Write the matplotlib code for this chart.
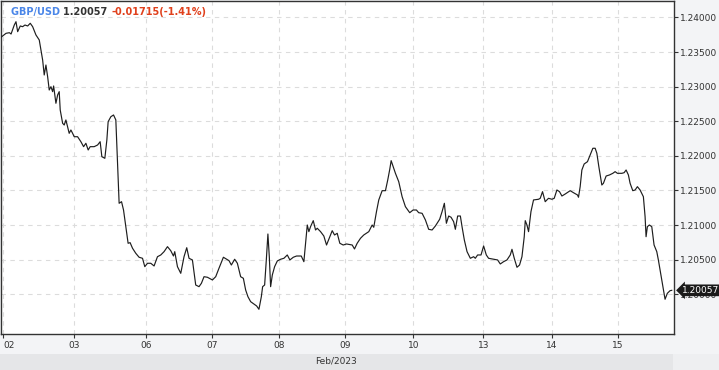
import numpy as np
import matplotlib
matplotlib.use('Agg')
import matplotlib.pyplot as plt
from matplotlib.patches import Rectangle

# GBP/USD hourly-ish bars, x = bar index, y = price
bars = [0.0, 1.8, 3.0, 3.6, 4.75, 5.36, 5.96, 6.89, 7.75, 8.57, 9.54, 10.46, 11.32, 12.5,
        13.68, 14.89, 15.46, 16.07, 16.68, 17.25, 17.86, 18.46, 18.82, 19.64, 20.25, 20.82,
        21.18, 22.04, 22.61, 23.21, 23.82, 24.39, 25.0, 25.61, 26.18, 27.39, 28.57, 29.54,
        30.36, 31.18, 31.89, 33.32, 34.54, 35.46, 36.07, 37.14, 37.86, 38.32, 39.29, 40.25,
        41.07, 41.68, 42.25, 43.11, 43.82, 44.64, 45.46, 46.18, 47.04, 48.21, 49.39, 50.61,
        51.43, 52.39, 53.57, 54.75, 55.96, 57.14, 58.32, 59.54, 60.71, 61.68, 62.14, 63.11,
        64.29, 65.46, 66.43, 67.25, 68.46, 69.64, 70.82, 71.68, 72.61, 73.82, 75.61, 76.79,
        77.96, 79.54, 80.71, 81.54, 82.39, 83.57, 84.54, 85.71, 86.68, 87.5, 88.32, 89.29,
        90.46, 91.43, 92.25, 93.11, 93.57, 94.29, 94.89, 95.46, 95.96, 96.43, 97.04, 97.86,
        98.82, 100.0, 101.18, 102.39, 103.32, 104.54, 105.71, 107.39, 108.32, 108.93, 109.54,
        110.11, 110.71, 111.68, 112.5, 113.11, 114.29, 115.46, 116.43, 117.61, 118.46, 119.29,
        120.25, 121.18, 122.39, 123.57, 125.61, 126.43, 127.39, 128.57, 129.75, 131.54, 132.75,
        133.32, 134.29, 135.11, 136.32, 137.5, 138.32, 139.04, 139.54, 140.25, 141.07, 142.25,
        143.46, 144.64, 146.18, 147.39, 148.57, 149.39, 150.61, 151.79, 152.96, 154.18, 155.36,
        156.89, 157.75, 158.57, 159.29, 160.11, 160.96, 161.89, 162.5, 163.32, 164.29, 164.89,
        165.71, 166.68, 167.86, 169.04, 169.64, 170.46, 171.68, 172.61, 173.57, 174.39, 176.18,
        177.61, 178.57, 179.75, 180.96, 182.14, 182.75, 183.57, 184.54, 185.46, 186.32, 187.14,
        187.5, 188.11, 188.68, 189.54, 190.46, 192.25, 192.86, 193.68, 194.64, 195.82, 197.04,
        197.86, 198.82, 199.75, 200.61, 201.79, 203.57, 204.75, 206.18, 206.54, 207.14, 207.75,
        208.57, 209.75, 210.71, 211.68, 212.5, 213.11, 213.82, 214.89, 215.46, 216.43, 217.61,
        218.82, 219.64, 220.46, 222.04, 222.86, 223.57, 224.39, 225.0, 225.96, 226.79, 227.61,
        228.57, 229.75, 230.36, 230.71, 231.18, 231.89, 232.75, 233.57, 234.54, 235.11, 236.32,
        237.5, 238.32, 239.29, 239.89]

prices = [1.23714, 1.23771, 1.23780, 1.23761, 1.23891, 1.23939, 1.23795, 1.23877, 1.23867,
          1.23891, 1.23877, 1.23916, 1.23867, 1.23747, 1.23675, 1.23386, 1.23169, 1.23313,
          1.23144, 1.22952, 1.23000, 1.22928, 1.23010, 1.22760, 1.22880, 1.22928, 1.22663,
          1.22471, 1.22446, 1.22519, 1.22422, 1.22326, 1.22374, 1.22326, 1.22277, 1.22277,
          1.22205, 1.22133, 1.22182, 1.22085, 1.22133, 1.22133, 1.22157, 1.22205, 1.21988,
          1.21965, 1.22230, 1.22494, 1.22566, 1.22591, 1.22519, 1.21893, 1.21315, 1.21338,
          1.21218, 1.20977, 1.20737, 1.20746, 1.20665, 1.20592, 1.20535, 1.20520, 1.20399,
          1.20448, 1.20448, 1.20409, 1.20543, 1.20568, 1.20616, 1.20688, 1.20630, 1.20553,
          1.20616, 1.20399, 1.20303, 1.20543, 1.20673, 1.20520, 1.20496, 1.20134, 1.20110,
          1.20159, 1.20254, 1.20246, 1.20207, 1.20254, 1.20376, 1.20535, 1.20506, 1.20486,
          1.20423, 1.20506, 1.20448, 1.20254, 1.20231, 1.20062, 1.19965, 1.19893, 1.19860,
          1.19831, 1.19783, 1.19965, 1.20110, 1.20134, 1.20496, 1.20871, 1.20543, 1.20110,
          1.20279, 1.20399, 1.20481, 1.20506, 1.20520, 1.20568, 1.20496, 1.20535, 1.20553,
          1.20553, 1.20471, 1.20737, 1.21001, 1.20905, 1.20977, 1.21064, 1.20929, 1.20954,
          1.20905, 1.20842, 1.20712, 1.20832, 1.20919, 1.20857, 1.20881, 1.20737, 1.20712,
          1.20727, 1.20712, 1.20655, 1.20737, 1.20809, 1.20857, 1.20905, 1.21001, 1.20968,
          1.21194, 1.21363, 1.21497, 1.21497, 1.21652, 1.21806, 1.21931, 1.21844, 1.21748,
          1.21627, 1.21410, 1.21266, 1.21179, 1.21218, 1.21218, 1.21179, 1.21170, 1.21074,
          1.20939, 1.20929, 1.20987, 1.21084, 1.21194, 1.21315, 1.21026, 1.21131, 1.21113,
          1.21049, 1.20939, 1.21131, 1.21131, 1.20977, 1.20785, 1.20616, 1.20520, 1.20543,
          1.20520, 1.20568, 1.20568, 1.20698, 1.20568, 1.20520, 1.20506, 1.20496, 1.20438,
          1.20471, 1.20496, 1.20568, 1.20650, 1.20520, 1.20390, 1.20423, 1.20543, 1.20832,
          1.21064, 1.21001, 1.20905, 1.21194, 1.21363, 1.21373, 1.21387, 1.21483, 1.21338,
          1.21387, 1.21373, 1.21387, 1.21507, 1.21483, 1.21420, 1.21449, 1.21497, 1.21468,
          1.21435, 1.21402, 1.21555, 1.21796, 1.21883, 1.21916, 1.22013, 1.22110, 1.22110,
          1.22037, 1.21844, 1.21579, 1.21604, 1.21709, 1.21724, 1.21748, 1.21772, 1.21748,
          1.21748, 1.21757, 1.21796, 1.21724, 1.21604, 1.21497, 1.21507, 1.21555, 1.21507,
          1.21410, 1.21121, 1.20832, 1.20977, 1.21001, 1.20977, 1.20712, 1.20616, 1.20496,
          1.20207, 1.19928, 1.20014, 1.20052, 1.20057]

day_ticks = [0.7, 26.1, 51.8, 75.4, 99.3, 123.2, 147.5, 172.5, 197.1, 220.7]
day_labels = ['02', '03', '06', '07', '08', '09', '10', '13', '14', '15']
price_ticks = [1.200, 1.205, 1.210, 1.215, 1.220, 1.225, 1.230, 1.235, 1.240]
month_label = 'Feb/2023'
symbol = 'GBP/USD'
last_price = prices[-1]
change = -0.01715
change_pct = -1.41

W, H = 719, 370
fig = plt.figure(figsize=(W / 100, H / 100), dpi=100, facecolor='#f3f4f6')
ax = fig.add_axes([1 / W, (H - 334) / H, 673 / W, 333 / H])
ax.set_facecolor('white')

ax.plot(bars, prices, color='#1e1e1e', linewidth=0.85, zorder=3)

ax.set_xlim(0, 240.7)
ax.set_ylim(1.19426, 1.24238)

ax.set_xticks(day_ticks)
ax.set_xticklabels(day_labels)
ax.set_yticks(price_ticks)
ax.set_yticklabels(['%.5f' % p for p in price_ticks])
ax.yaxis.tick_right()
ax.tick_params(axis='both', direction='out', length=3, width=0.8, color='#333333',
               labelsize=6.5, labelcolor='#333333', pad=1.5)
ax.tick_params(axis='x', pad=2)
# first day label sits against the left edge
ax.get_xticklabels()[0].set_horizontalalignment('left')

ax.grid(True, color='#dcdcdc', linestyle=(0, (4, 4)), linewidth=0.8, zorder=0)
for s in ax.spines.values():
    s.set_color('#333333')
    s.set_linewidth(1.0)

# bottom month band
fig.patches.append(Rectangle((0, 0), 673 / W, 16 / H, transform=fig.transFigure,
                             facecolor='#e5e6e8', edgecolor='none', zorder=0))
fig.patches.append(Rectangle((673 / W, 0), 46 / W, 16 / H, transform=fig.transFigure,
                             facecolor='#eeeff1', edgecolor='none', zorder=0))
fig.text(336 / W, 8.5 / H, month_label, ha='center', va='center', fontsize=6.5, color='#333333')

# last price marker
ax.annotate('%.5f' % last_price, xy=(1, last_price), xycoords=('axes fraction', 'data'),
            xytext=(6, 0), textcoords='offset points', ha='left', va='center',
            fontsize=6.5, color='white', annotation_clip=False, zorder=10,
            bbox=dict(boxstyle='larrow,pad=0.15', facecolor='#1a1a1a', edgecolor='none'))

# header text
fig.canvas.draw()
renderer = fig.canvas.get_renderer()
x0 = 11 / W
parts = [(symbol + ' ', '#4a86e8'),
         ('%.5f ' % last_price, '#333333'),
         ('%.5f(%.2f%%)' % (change, change_pct), '#e0401c')]
for txt, col in parts:
    t = fig.text(x0, (H - 12) / H, txt, ha='left', va='center', fontsize=7,
                 fontweight='bold', color=col)
    bb = t.get_window_extent(renderer)
    x0 = bb.x1 / W

fig.savefig('out.png', dpi=100, facecolor=fig.get_facecolor())
